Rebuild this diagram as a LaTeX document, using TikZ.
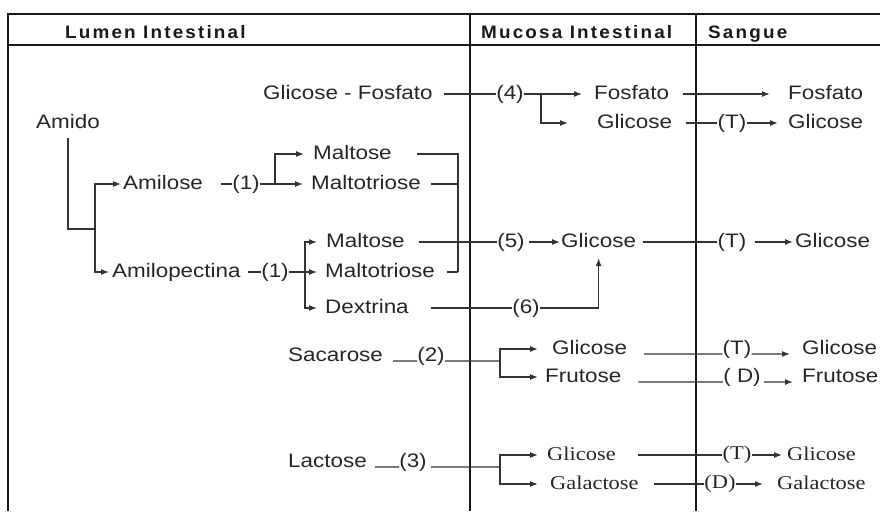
\documentclass[tikz,border=0pt]{standalone}
\usepackage{fontspec}
\setmainfont{Liberation Sans}[FakeStretch=1.15]
\newfontfamily\serfont{Liberation Serif}[FakeStretch=1.15]
\newfontfamily\headfont{Liberation Sans}[FakeStretch=1.05,LetterSpace=12]
\usetikzlibrary{arrows.meta,calc}

\tikzset{
  txt/.style={anchor=west,inner sep=0pt,text height=14pt,text depth=4pt,
    font=\fontsize{19.5}{22}\selectfont,text=black!85},
  stxt/.style={txt,font=\serfont\fontsize{19.5}{22}\selectfont},
  lbl/.style={inner sep=0pt,font=\fontsize{19.5}{22}\selectfont,text=black!85},
  slbl/.style={lbl,font=\serfont\fontsize{19.5}{22}\selectfont},
  kopf/.style={anchor=base west,inner sep=0pt,
    font=\headfont\bfseries\fontsize{18}{20}\selectfont,text=black!90},
  verb/.style={draw=black!80,line width=1.2pt},
  pfeil/.style={verb,-{Latex[length=8pt,width=6pt]}},
  rahmen/.style={draw=black!90,line width=2.2pt}
}

\begin{document}
\begin{tikzpicture}[x=1pt,y=-1pt]
\useasboundingbox (0,0) rectangle (880,511);
\draw[rahmen] (880,14) -- (8,14) -- (8,511);
\draw[rahmen] (8,45) -- (880,45);
\draw[rahmen] (470,14) -- (470,511);
\draw[rahmen] (696,14) -- (696,511);

\node[kopf] (hlumen) at (65,39) {Lumen Intestinal};
\node[kopf] (hmucosa) at (481,39) {Mucosa Intestinal};
\node[kopf] (hsangue) at (708,39) {Sangue};

% lumen intestinal
\node[txt] (gfos) at (263,94) {Glicose - Fosfato};
\node[txt] (amido) at (36,123) {Amido};
\node[txt] (amilose) at (123,184) {Amilose};
\node[txt] (amilop) at (112,272) {Amilopectina};
\node[lbl] (l1a) at (246,184) {(1)};
\node[lbl] (l1b) at (275,272) {(1)};
\node[txt] (maltA) at (313,154) {Maltose};
\node[txt] (mtriA) at (311,184) {Maltotriose};
\node[txt] (maltB) at (326,242) {Maltose};
\node[txt] (mtriB) at (325,272) {Maltotriose};
\node[txt] (dext) at (325,308) {Dextrina};
\node[txt] (sac) at (288,356) {Sacarose};
\node[lbl] (l2) at (431,356) {(2)};
\node[txt] (lac) at (288,462) {Lactose};
\node[lbl] (l3) at (413,462) {(3)};

% mucosa intestinal
\node[lbl] (l4) at (510,94) {(4)};
\node[lbl] (l5) at (511,242) {(5)};
\node[lbl] (l6) at (526,308) {(6)};
\node[txt] (fosM) at (594,94) {Fosfato};
\node[txt] (glcM1) at (597,123) {Glicose};
\node[txt] (glcM2) at (561,242) {Glicose};
\node[txt] (glcM3) at (552,349) {Glicose};
\node[txt] (fruM) at (545,377) {Frutose};
\node[stxt] (glcM4) at (547,455) {Glicose};
\node[stxt] (galM) at (550,484) {Galactose};

% sangue
\node[lbl] (lT1) at (732,123) {(T)};
\node[lbl] (lT2) at (732,242) {(T)};
\node[lbl] (lT3) at (737,349) {(T)};
\node[lbl] (lD1) at (742,377) {( D)};
\node[slbl] (lT4) at (737,455) {(T)};
\node[slbl] (lD2) at (720,484) {(D)};
\node[txt] (fosS) at (788,94) {Fosfato};
\node[txt] (glcS1) at (788,123) {Glicose};
\node[txt] (glcS2) at (795,242) {Glicose};
\node[txt] (glcS3) at (802,349) {Glicose};
\node[txt] (fruS) at (802,377) {Frutose};
\node[stxt] (glcS4) at (787,455) {Glicose};
\node[stxt] (galS) at (777,484) {Galactose};

\coordinate (jb) at (95,229);
\coordinate (j1a) at (275,184);
\coordinate (j1b) at (305,272);
\coordinate (jm) at (458,272);
\coordinate (j4) at (541,94);
\coordinate (jS) at (500,361);
\coordinate (jL) at (500,467);

\draw[verb] ([yshift=-6pt]amido.south) |- (jb);
\draw[pfeil] (jb) |- ([xshift=-2pt]amilose.west);
\draw[pfeil] (jb) |- ([xshift=-3pt]amilop.west);
\draw[verb] ([xshift=18pt]amilose.east) -- (l1a.west);
\draw[verb] (l1a.east) -- (j1a);
\draw[pfeil] (j1a) |- ([xshift=-9pt]maltA.west);
\draw[pfeil] (j1a) -- ([xshift=-8pt]mtriA.west);
\draw[verb] ([xshift=25pt]maltA.east) -| (jm);
\draw[verb] ([xshift=10pt]mtriA.east) -- (mtriA.east -| jm);
\draw[verb] ([xshift=12pt]mtriB.east) -- (jm);
\draw[verb] ([xshift=7pt]amilop.east) -- (l1b.west);
\draw[pfeil] (l1b.east) -- ([xshift=-8pt]mtriB.west);
\draw[pfeil] (j1b) |- ([xshift=-9pt]maltB.west);
\draw[pfeil] (j1b) |- ([xshift=-8pt]dext.west);

\draw[verb] ([xshift=14pt]maltB.east) -- (l5.west);
\draw[pfeil] ([xshift=4pt]l5.east) -- ([xshift=-1pt]glcM2.west);
\draw[verb] ([xshift=22pt]dext.east) -- (l6.west);
\draw[pfeil] (l6.east) -| ([yshift=-7pt]glcM2.south);

\draw[verb] ([xshift=11pt]gfos.east) -- (l4.west);
\draw[pfeil] (l4.east) -- ([xshift=-12pt]fosM.west);
\draw[pfeil] (j4) |- ([xshift=-29pt]glcM1.west);
\draw[pfeil] ([xshift=14pt]fosM.east) -- ([xshift=-18pt]fosS.west);
\draw[verb] ([xshift=14pt]glcM1.east) -- (lT1.west);
\draw[pfeil] (lT1.east) -- ([xshift=-10pt]glcS1.west);
\draw[verb] ([xshift=7pt]glcM2.east) -- (lT2.west);
\draw[pfeil] ([xshift=8pt]lT2.east) -- ([xshift=-2pt]glcS2.west);

\draw[verb] ([xshift=10pt]sac.base east) -- (l2.base west);
\draw[verb] (l2.base east) -- (jS);
\draw[pfeil] (jS) |- ([xshift=-14pt]glcM3.west);
\draw[pfeil] (jS) |- ([xshift=-7pt]fruM.west);
\draw[verb] ([xshift=17pt]glcM3.base east) -- (lT3.base west);
\draw[pfeil] (lT3.base east) -- ([xshift=-12pt]glcS3.base west);
\draw[verb] ([xshift=17pt]fruM.base east) -- (lD1.base west);
\draw[pfeil] ([xshift=3pt]lD1.base east) -- ([xshift=-9pt]fruS.base west);

\draw[verb] ([xshift=8pt]lac.base east) -- (l3.base west);
\draw[verb] ([xshift=4pt]l3.base east) -- (jL);
\draw[pfeil] (jL) |- ([xshift=-9pt]glcM4.west);
\draw[pfeil] (jL) |- ([xshift=-12pt]galM.west);
\draw[verb] ([xshift=22pt]glcM4.east) -- (lT4.west);
\draw[pfeil] (lT4.east) -- ([xshift=-5pt]glcS4.west);
\draw[verb] ([xshift=15pt]galM.east) -- (lD2.west);
\draw[pfeil] (lD2.east) -- ([xshift=-14pt]galS.west);
\end{tikzpicture}
\end{document}
